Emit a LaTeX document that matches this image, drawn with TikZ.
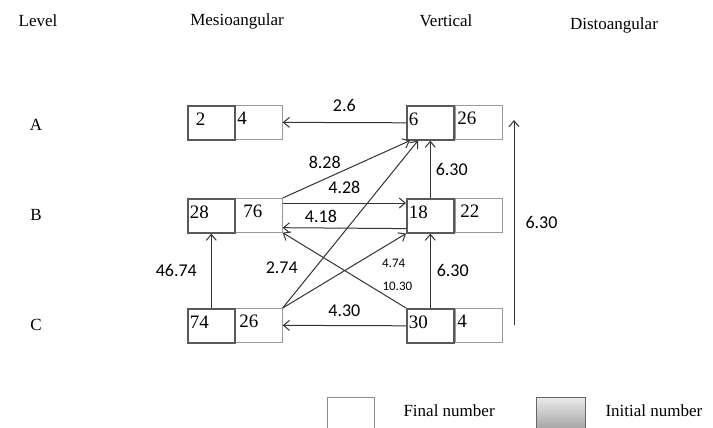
\documentclass[tikz,border=0pt]{standalone}
\usepackage{fontspec}
\setmainfont{Liberation Serif}
\newfontfamily\calib{Carlito}
\usetikzlibrary{arrows.meta,shadows}
\tikzset{
  head/.style={font=\fontsize{17}{20}\selectfont},
  finalbox/.style={draw=black!40,line width=0.7pt,fill=white,minimum height=34pt,text width=43pt,text depth=8pt,inner xsep=2pt,inner ysep=0pt,align=left,anchor=north west,font=\fontsize{19}{22}\selectfont},
  initbox/.style={finalbox,draw=black!65,line width=1.6pt,drop shadow={shadow xshift=0.8pt,shadow yshift=-1.5pt,fill=black!25}},
  arr/.style={-{Straight Barb[length=6pt,width=10pt]},line width=1pt,draw=black!80},
  val/.style={font=\calib\fontsize{18}{20}\selectfont,inner sep=1pt},
  valsmall/.style={font=\calib\fontsize{13}{15}\selectfont,inner sep=1pt}
}
\begin{document}
\begin{tikzpicture}[x=1pt,y=-1pt]
\useasboundingbox (0,0) rectangle (713,428);
\clip (0,0) rectangle (713,428);

\node[head] (hlevel) at (38,21) {Level};
\node[head] (hmesio) at (237,21) {Mesioangular};
\node[head] (hvert) at (446,21) {Vertical};
\node[head] (hdisto) at (614,25) {Distoangular};

\node[head] (rowa) at (36,125) {A};
\node[head] (rowb) at (36,215) {B};
\node[head] (rowc) at (36,325) {C};

\node[finalbox] (m4) at (235,105) {4};
\node[finalbox] (m76) at (235,198) {\hspace*{6pt}76};
\node[finalbox] (m26) at (235,308) {\hspace*{2pt}26};
\node[finalbox] (v26) at (455,105) {26};
\node[finalbox] (v22) at (455,198) {\hspace*{3pt}22};
\node[finalbox] (v4) at (455,308) {4};
\node[initbox] (m2) at (187,105) {\hspace*{6pt}2};
\node[initbox] (m28) at (187,198) {28};
\node[initbox] (m74) at (187,308) {74};
\node[initbox] (v6) at (406,105) {6};
\node[initbox] (v18) at (406,198) {18};
\node[initbox] (v30) at (406,308) {30};

\draw[arr] (v6.west) -- node[val,above=9pt] {2.6} (m4.east);
\draw[arr] (m76.north east) -- node[val,pos=0.33,above=9pt] {8.28} ([xshift=4pt]v6.south west);
\draw[arr] (m26.north east) -- node[val,pos=0.24,left=16pt] {2.74} ([xshift=12pt]v6.south west);
\draw[arr] (v18.north) -- node[val,right=4pt] {6.30} (v6.south);
\draw[arr] ([yshift=-5pt]m76.north east) -- node[val,above=8pt] {4.28} ([yshift=-5pt]v18.north west);
\draw[arr] ([yshift=5pt]v18.south west) -- node[val,pos=0.69,above=4pt] {4.18} ([yshift=5pt]m76.south east);
\draw[arr] (m74.north) -- node[val,left=13pt] {46.74} (m28.south);
\draw[arr] (m26.north east) -- node[valsmall,pos=0.9,below=17pt] {4.74} (v18.south west);
\draw[arr] (v30.north west) -- node[valsmall,pos=0.07,above=11pt] {10.30} (m76.south east);
\draw[arr] (v30.north) -- node[val,right=5pt] {6.30} (v18.south);
\draw[arr] (v30.west) -- node[val,above=7pt] {4.30} (m26.east);

\coordinate (dbot) at (514,325);
\coordinate (dtop) at (514,120);
\draw[arr] (dbot) -- node[val,right=10pt] {6.30} (dtop);

\node[draw=black!45,line width=0.7pt,minimum width=47pt,minimum height=36pt,anchor=north west] (keyfinal) at (327,397) {};
\node[head,anchor=west] (keyfinaltxt) at (400,411) {Final number};
\node[draw=black!60,line width=1.2pt,top color=black!8,bottom color=black!40,minimum width=49pt,minimum height=36pt,anchor=north west] (keyinit) at (536,397) {};
\node[head,anchor=west] (keyinittxt) at (602,411) {Initial number};
\end{tikzpicture}
\end{document}
